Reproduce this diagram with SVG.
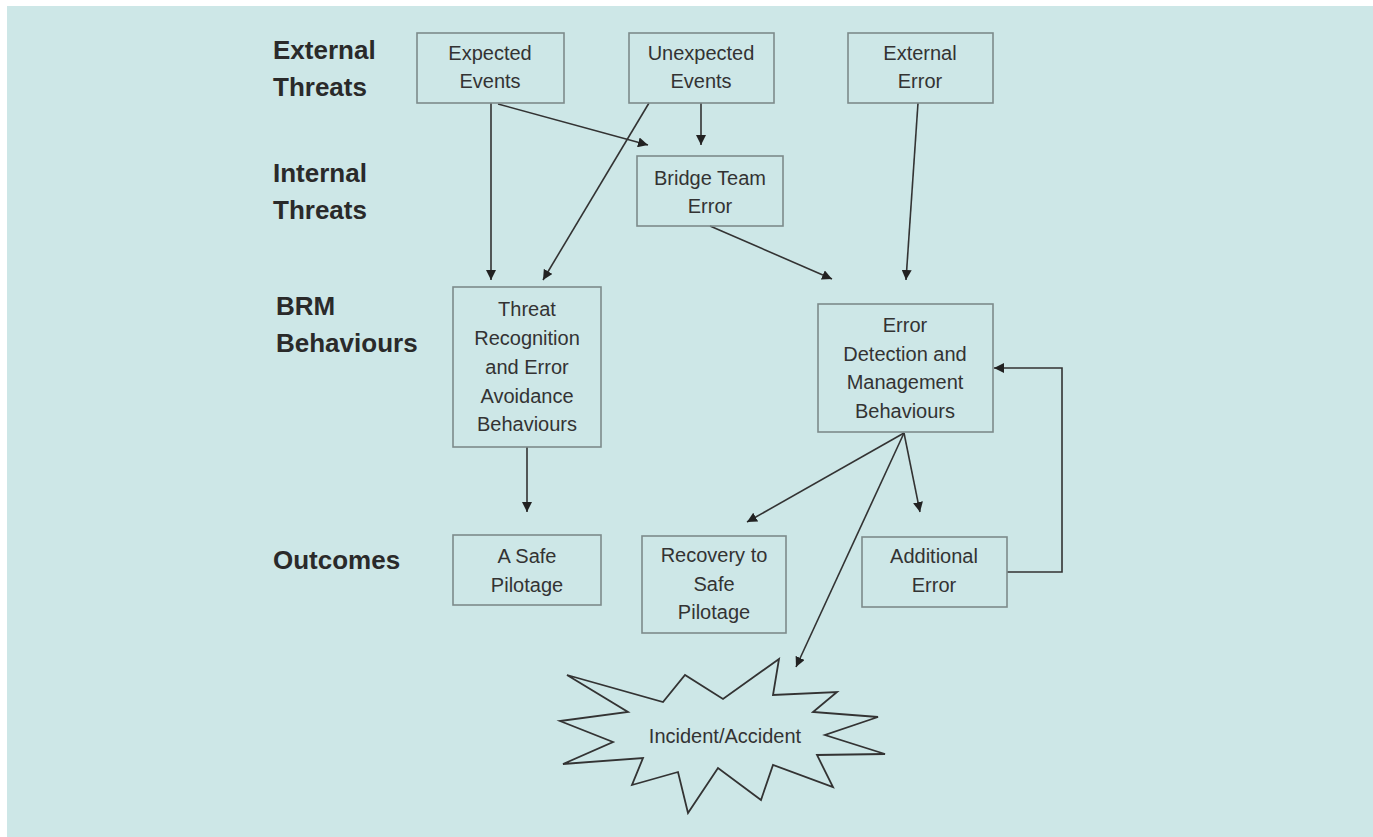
<svg xmlns="http://www.w3.org/2000/svg" width="1373" height="837" viewBox="0 0 1373 837">
<style>
.box{fill:none;stroke:#7d8b8b;stroke-width:1.6}
.t{font-family:"Liberation Sans",Arial,sans-serif;font-size:20px;fill:#333;text-anchor:middle}
.lab{font-family:"Liberation Sans",Arial,sans-serif;font-size:26px;font-weight:bold;fill:#2a2a2a}
.c{fill:none;stroke:#333;stroke-width:1.6}
</style>
<defs>
<marker id="ah" viewBox="0 0 10 10" refX="10" refY="5" markerWidth="10" markerHeight="10" markerUnits="userSpaceOnUse" orient="auto">
<path d="M0,0 L10,5 L0,10 z" fill="#222"/>
</marker>
</defs>
<rect x="0" y="0" width="1373" height="837" fill="#ffffff"/>
<rect x="7" y="6" width="1366" height="831" fill="#cde7e7"/>
<g id="labels">
<text class="lab" x="273" y="59">External</text>
<text class="lab" x="273" y="96">Threats</text>
<text class="lab" x="273" y="182">Internal</text>
<text class="lab" x="273" y="219">Threats</text>
<text class="lab" x="276" y="315">BRM</text>
<text class="lab" x="276" y="352">Behaviours</text>
<text class="lab" x="273" y="569">Outcomes</text>
</g>
<g id="connectors">
<line class="c" x1="491" y1="103" x2="491" y2="280" marker-end="url(#ah)"/>
<line class="c" x1="498" y1="104" x2="648" y2="145" marker-end="url(#ah)"/>
<line class="c" x1="649" y1="103" x2="543" y2="280" marker-end="url(#ah)"/>
<line class="c" x1="701" y1="103" x2="701" y2="145" marker-end="url(#ah)"/>
<line class="c" x1="710" y1="226" x2="832" y2="279" marker-end="url(#ah)"/>
<line class="c" x1="918" y1="103" x2="906" y2="280" marker-end="url(#ah)"/>
<line class="c" x1="527" y1="447" x2="527" y2="512" marker-end="url(#ah)"/>
<line class="c" x1="904" y1="433" x2="747" y2="522" marker-end="url(#ah)"/>
<line class="c" x1="904" y1="433" x2="920" y2="512" marker-end="url(#ah)"/>
<line class="c" x1="904" y1="433" x2="796" y2="667" marker-end="url(#ah)"/>
<polyline class="c" points="1007,572 1062,572 1062,368 994,368" marker-end="url(#ah)"/>
</g>
<g id="expected-events">
<rect class="box" x="417" y="33" width="147" height="70"/>
<text class="t" x="490" y="60">Expected</text>
<text class="t" x="490" y="88">Events</text>
</g>
<g id="unexpected-events">
<rect class="box" x="629" y="33" width="145" height="70"/>
<text class="t" x="701" y="60">Unexpected</text>
<text class="t" x="701" y="88">Events</text>
</g>
<g id="external-error">
<rect class="box" x="848" y="33" width="145" height="70"/>
<text class="t" x="920" y="60">External</text>
<text class="t" x="920" y="88">Error</text>
</g>
<g id="bridge-team-error">
<rect class="box" x="637" y="156" width="146" height="70"/>
<text class="t" x="710" y="185">Bridge Team</text>
<text class="t" x="710" y="213">Error</text>
</g>
<g id="threat-recognition">
<rect class="box" x="453" y="287" width="148" height="160"/>
<text class="t" x="527" y="316">Threat</text>
<text class="t" x="527" y="345">Recognition</text>
<text class="t" x="527" y="374">and Error</text>
<text class="t" x="527" y="403">Avoidance</text>
<text class="t" x="527" y="431">Behaviours</text>
</g>
<g id="error-detection">
<rect class="box" x="818" y="304" width="175" height="128"/>
<text class="t" x="905" y="332">Error</text>
<text class="t" x="905" y="361">Detection and</text>
<text class="t" x="905" y="389">Management</text>
<text class="t" x="905" y="418">Behaviours</text>
</g>
<g id="safe-pilotage">
<rect class="box" x="453" y="535" width="148" height="70"/>
<text class="t" x="527" y="563">A Safe</text>
<text class="t" x="527" y="592">Pilotage</text>
</g>
<g id="recovery">
<rect class="box" x="642" y="536" width="144" height="97"/>
<text class="t" x="714" y="562">Recovery to</text>
<text class="t" x="714" y="591">Safe</text>
<text class="t" x="714" y="619">Pilotage</text>
</g>
<g id="additional-error">
<rect class="box" x="862" y="537" width="145" height="70"/>
<text class="t" x="934" y="563">Additional</text>
<text class="t" x="934" y="592">Error</text>
</g>
<g id="incident-accident">
<polygon points="567,675 663,702 685,675 723,699 779,659 773,695 837,692 813,712 878,717 825,735 885,754 817,755 833,787 773,765 761,800 718,768 688,813 678,772 632,785 643,758 563,764 613,742 560,721 628,712" fill="none" stroke="#333" stroke-width="1.8" stroke-linejoin="miter"/>
<text class="t" x="725" y="743">Incident/Accident</text>
</g>
</svg>
